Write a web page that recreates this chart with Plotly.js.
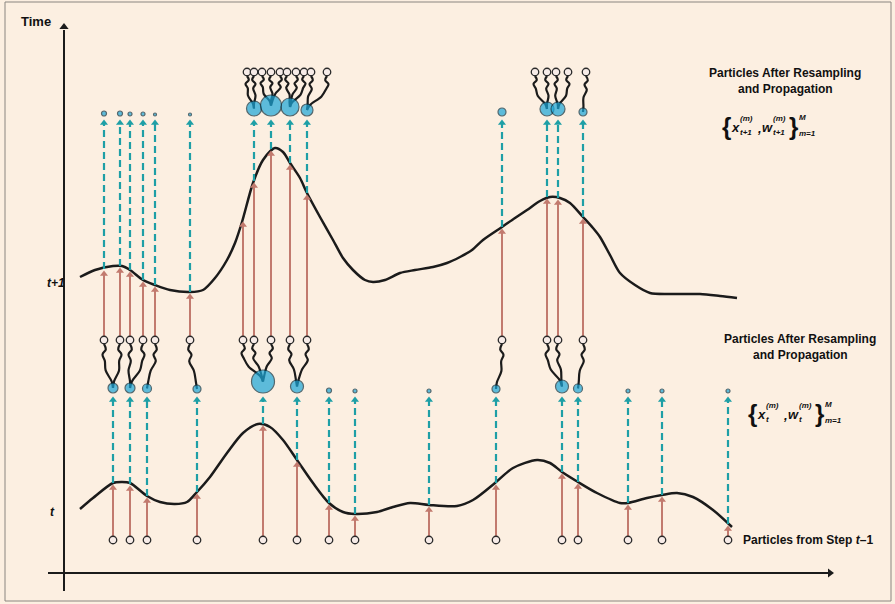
<!DOCTYPE html>
<html>
<head>
<meta charset="utf-8">
<script src="https://cdn.plot.ly/plotly-3.0.1.min.js"></script>
<style>html,body{margin:0;padding:0;background:#fcefe1;}#chart{width:895px;height:604px;}</style>
</head>
<body>
<div id="chart"></div>
<script>
// ---------- DATA (chart units) ----------
// Likelihood curve at time t
const curveTx = [80,93,113,122,130,147,160,175,187,197,210,227,243,258,270,283,297,313,329,343,355,377,393,410,429,457,473,495,513,537,550,562,578,597,620,628,647,662,677,693,713,732];
const curveTy = [509,498,483,482,483,496,502,504,502,492,477,453,433,424,427,440,460,483,503,512,514,512,507,503,505,506,500,483,468,460,463,472,482,493,503,503,498,495,493,497,510,527];
// Likelihood curve at time t+1
const curveT1x = [80,95,113,122,130,143,155,170,190,203,215,227,235,242,253,263,275,283,290,300,307,320,333,343,353,365,373,385,400,415,433,447,460,472,483,502,515,527,540,550,560,570,583,593,600,610,620,635,650,670,700,720,737];
const curveT1y = [277,270,266,266,270,280,285,290,292,290,278,260,243,222,183,160,148,152,163,178,193,217,240,258,270,280,282,280,273,270,267,263,257,250,240,227,218,210,201,197,198,203,217,228,237,255,273,285,293,294,294,296,298];

// Particles from step t-1 (state positions) and curve value reached by each
const particlesPrev = [113,130,147,197,263,297,329,355,429,496,562,578,628,662,728];
const likeT         = [483,484,496,492,424,460,503,514,505,483,472,482,503,495,524];
// Weights at time t (relative)
const weightT       = [10,10,9,8,23,13,5,4,4,8,13,9,4,4,4];

// Resampled particles at time t and their parent index
const resampledT    = [104,120,130,143,155,190,243,254,271,290,307,502,547,558,583];
const parentT       = [0,0,1,1,2,3,4,4,4,5,5,9,10,10,11];
const likeT1        = [269,266,270,280,285,292,220,181,149,163,193,227,197,198,217];
// Weights at time t+1 (relative, 0 = no weight drawn)
const weightT1      = [5,5,4,4,3,3,0,15,21,18,12,8,14,14,8];

// Resampled particles at time t+1 and their parent index
const resampledT1   = [247,254,262,271,280,287,296,304,311,327,535,547,556,568,586];
const parentT1      = [7,7,8,8,8,9,9,9,10,10,12,12,13,13,14];

// Tick labels on the time axis
const timeLabels = ['t', 't+1'];
const timeLevels = [512, 283];

// ---------- LAYOUT CONSTANTS ----------
const BG = '#fcefe1';
const RED = '#c27a6e';
const TEAL = '#1e9fa6';
const BLUE = '#1aa6d8';
const INK = '#1b1b1b';
const yPrev = 540, yMidRes = 340, yTopRes = 72;
const rowT = 393, rowT1 = 116;   // bottom edge of weighted-particle rows
const sizeScale = 1.0;

const traces = [];

// curves
traces.push({x: curveTx, y: curveTy, mode: 'lines', line: {color: INK, width: 2.5, shape: 'spline', smoothing: 0.8}, hoverinfo: 'skip'});
traces.push({x: curveT1x, y: curveT1y, mode: 'lines', line: {color: INK, width: 2.5, shape: 'spline', smoothing: 0.8}, hoverinfo: 'skip'});

// red arrows (evaluation of likelihood)
function redArrows(xs, y0, tips) {
  const lx = [], ly = [];
  xs.forEach((x, i) => { lx.push(x, x, null); ly.push(y0 - 4, tips[i] + 3, null); });
  traces.push({x: lx, y: ly, mode: 'lines', line: {color: RED, width: 2}, hoverinfo: 'skip'});
  traces.push({x: xs, y: tips.map(t => t + 5), mode: 'markers', marker: {symbol: 'triangle-up', size: 7, color: RED, line: {width: 0}}, hoverinfo: 'skip'});
}
redArrows(particlesPrev, yPrev, likeT);
redArrows(resampledT, yMidRes, likeT1);

// teal dashed arrows (weighting)
function tealArrows(xs, tips, top, weights) {
  const lx = [], ly = [], ax = [], ay = [];
  xs.forEach((x, i) => {
    if (weights[i] <= 0) return;
    lx.push(x, x, null); ly.push(tips[i], top + 6, null);
    ax.push(x); ay.push(top + 7);
  });
  traces.push({x: lx, y: ly, mode: 'lines', line: {color: TEAL, width: 2.2, dash: '7px,4px'}, hoverinfo: 'skip'});
  traces.push({x: ax, y: ay, mode: 'markers', marker: {symbol: 'triangle-up', size: 7, color: TEAL, line: {width: 0}}, hoverinfo: 'skip'});
}
tealArrows(particlesPrev, likeT, rowT, weightT);
tealArrows(resampledT, likeT1, rowT1, weightT1);

// wavy connectors (resampling)
function connectors(childX, childY, parentIdx, parentX, parentW, rowBottom) {
  childX.forEach((xc, i) => {
    const p = parentIdx[i];
    const xp = parentX[p];
    const yp = rowBottom - parentW[p] * sizeScale / 2;
    const yc = childY + 4;
    const dy = yp - yc;
    const s = (i % 2 === 0) ? 1 : -1;
    const xs = [xc, xc + 1.8 * s, xc - 1.5 * s, xc + 0.8 * s, xc + 0.35 * (xp - xc) - 1.5 * s, xc + 0.85 * (xp - xc), xp];
    const ys = [yc, yc + dy * 0.12, yc + dy * 0.24, yc + dy * 0.38, yc + dy * 0.6, yc + dy * 0.85, yp];
    traces.push({x: xs, y: ys, mode: 'lines', line: {color: INK, width: 2.2, shape: 'spline', smoothing: 1}, hoverinfo: 'skip'});
  });
}
connectors(resampledT, yMidRes, parentT, particlesPrev, weightT, rowT);
connectors(resampledT1, yTopRes, parentT1, resampledT, weightT1, rowT1);

// unweighted particles (open circles)
function openCircles(xs, y) {
  traces.push({x: xs, y: xs.map(() => y), mode: 'markers', marker: {symbol: 'circle', size: 7.5, color: '#f7ece8', line: {color: '#2a2a2a', width: 1.3}}, hoverinfo: 'skip'});
}
openCircles(particlesPrev, yPrev);
openCircles(resampledT, yMidRes);
openCircles(resampledT1, yTopRes);

// weighted particles (blue dots)
function weighted(xs, weights, rowBottom) {
  const X = [], Y = [], S = [];
  xs.forEach((x, i) => {
    if (weights[i] <= 0) return;
    X.push(x); Y.push(rowBottom - weights[i] * sizeScale / 2); S.push(weights[i] * sizeScale);
  });
  traces.push({x: X, y: Y, mode: 'markers', marker: {symbol: 'circle', size: S, color: BLUE, line: {color: '#0e2f3d', width: 1.2}}, hoverinfo: 'skip'});
}
weighted(particlesPrev, weightT, rowT);
weighted(resampledT, weightT1, rowT1);

// axes (time and state)
traces.push({x: [64, 64], y: [591, 30], mode: 'lines', line: {color: INK, width: 2}, hoverinfo: 'skip'});
traces.push({x: [64], y: [27], mode: 'markers', marker: {symbol: 'triangle-up', size: 8, color: INK}, hoverinfo: 'skip'});
traces.push({x: [48, 828], y: [573, 573], mode: 'lines', line: {color: INK, width: 2}, hoverinfo: 'skip'});
traces.push({x: [830], y: [573], mode: 'markers', marker: {symbol: 'triangle-right', size: 8, color: INK}, hoverinfo: 'skip'});

// ---------- TEXT ----------
const F = 'Liberation Sans, Arial, sans-serif';
const ann = [];
function txt(x, y, text, size, opts) {
  ann.push(Object.assign({x: x, y: y, xref: 'x', yref: 'y', text: text, showarrow: false,
    font: {family: F, size: size, color: '#111', weight: 700}, xanchor: 'center', yanchor: 'middle'}, opts || {}));
}
txt(36, 21, 'Time', 13);
txt(56, timeLevels[1], '<i>' + timeLabels[1] + '</i>', 12);
txt(52, timeLevels[0], '<i>' + timeLabels[0] + '</i>', 12);
txt(785, 73, 'Particles After Resampling', 12);
txt(785, 89, 'and Propagation', 12);
txt(800, 339, 'Particles After Resampling', 12);
txt(800, 355, 'and Propagation', 12);
txt(741, 540, 'Particles from Step <i>t</i>–1', 12, {xanchor: 'left'});

// formula helper: {x^(m)_sub, w^(m)_sub}^M_{m=1}
function formula(x0, yc, sub) {
  const it = {family: F, size: 13, color: '#111', weight: 700, style: 'italic'};
  const sm = {family: F, size: 8, color: '#111', weight: 700, style: 'italic'};
  const br = {family: F, size: 24, color: '#111', weight: 700};
  const add = (x, y, t, f) => ann.push({x: x, y: y, xref: 'x', yref: 'y', text: t, showarrow: false, font: f, xanchor: 'left', yanchor: 'middle'});
  add(x0, yc, '{', br);
  add(x0 + 9, yc + 1, 'x', it);
  add(x0 + 18, yc - 8, '(m)', sm);
  add(x0 + 18, yc + 6, sub, sm);
  add(x0 + 35, yc + 2, ',', it);
  add(x0 + 40, yc + 1, 'w', it);
  add(x0 + 51, yc - 8, '(m)', sm);
  add(x0 + 51, yc + 6, sub, sm);
  add(x0 + 67, yc, '}', br);
  add(x0 + 77, yc - 9, 'M', sm);
  add(x0 + 77, yc + 7, 'm=1', sm);
}
formula(720, 126, 't+1');
formula(746, 413, 't');

const layout = {
  width: 895, height: 604,
  margin: {l: 0, r: 0, t: 0, b: 0},
  paper_bgcolor: BG, plot_bgcolor: BG,
  showlegend: false,
  xaxis: {range: [0, 895], visible: false, fixedrange: true},
  yaxis: {range: [604, 0], visible: false, fixedrange: true},
  annotations: ann,
  shapes: [{type: 'rect', xref: 'x', yref: 'y', x0: 5, y0: 2, x1: 891, y1: 601, line: {color: '#8a8580', width: 1}}]
};
Plotly.newPlot('chart', traces, layout, {staticPlot: true, displayModeBar: false});
</script>
</body>
</html>
